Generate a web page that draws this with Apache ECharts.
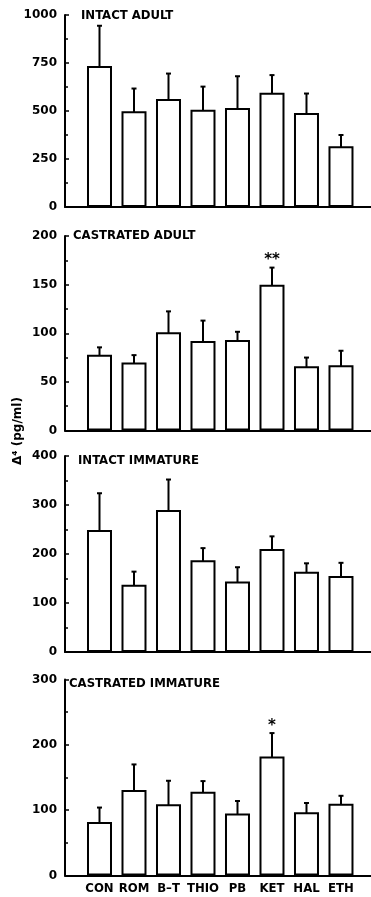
<!DOCTYPE html>
<html>
<head>
<meta charset="utf-8">
<script src="https://cdn.jsdelivr.net/npm/echarts@6/dist/echarts.min.js"></script>
<style>
	html, body { margin: 0; padding: 0; background: #fff; }
	#chart { width: 371px; height: 897px; }
</style>
</head>
<body>
<div id="chart"></div>
<script>
const categories = [ 'CON', 'ROM', 'B\u2013T', 'THIO', 'PB', 'KET', 'HAL', 'ETH' ];
const panelTitles = [ 'INTACT ADULT', 'CASTRATED ADULT', 'INTACT IMMATURE', 'CASTRATED IMMATURE' ];

const intactAdultMean = [ 734, 499, 562, 506, 515, 595, 489, 317 ];
const intactAdultSE = [ 210, 118, 133, 121, 166, 92, 102, 58 ];
const castratedAdultMean = [ 78, 70, 101, 92, 93, 150, 66, 67 ];
const castratedAdultSE = [ 7.5, 7.5, 21.5, 21, 8.5, 17.5, 9, 15 ];
const intactImmatureMean = [ 249, 137, 290, 187, 144, 210, 164, 155 ];
const intactImmatureSE = [ 75, 27, 62, 25, 29, 26, 17, 27 ];
const castratedImmatureMean = [ 82, 131, 109, 128, 95, 182, 97, 110 ];
const castratedImmatureSE = [ 22, 39, 36, 16.5, 19, 36, 14, 12 ];

const noMarks = [ '', '', '', '', '', '', '', '' ];
const castratedAdultSig = [ '', '', '', '', '', '**', '', '' ];
const castratedImmatureSig = [ '', '', '', '', '', '*', '', '' ];

const yMax = [ 1000, 200, 400, 300 ];
const yStep = [ 250, 50, 100, 100 ];

const panels = [
	{ mean: intactAdultMean, se: intactAdultSE, sig: noMarks },
	{ mean: castratedAdultMean, se: castratedAdultSE, sig: castratedAdultSig },
	{ mean: intactImmatureMean, se: intactImmatureSE, sig: noMarks },
	{ mean: castratedImmatureMean, se: castratedImmatureSE, sig: castratedImmatureSig }
];

// layout of the four stacked plots (px)
const gridTops = [ 15, 236, 456, 679.5 ];
const gridHeights = [ 192, 194.5, 196, 196 ];
const titleLeft = [ 81, 73, 78, 69 ];
const titleMid = [ 17, 237, 462, 685 ];

const FONT = '"DejaVu Sans Condensed", "Liberation Sans Narrow", "DejaVu Sans", sans-serif';
const NUM_FONT = '"DejaVu Sans", sans-serif';

const chart = echarts.init( document.getElementById( 'chart' ) );

const grids = [];
const xAxes = [];
const yAxes = [];
const series = [];
const graphics = [];

panels.forEach( ( panel, i ) => {
	grids.push( { left: 65, right: 0, top: gridTops[ i ], height: gridHeights[ i ] } );

	xAxes.push( {
		gridIndex: i,
		type: 'value',
		min: -1,
		max: 7.87,
		interval: 1,
		splitLine: { show: false },
		axisTick: { show: false },
		axisLine: { show: true, onZero: false, lineStyle: { color: '#000', width: 2 } },
		axisLabel: {
			show: i === 3,
			color: '#000',
			fontFamily: FONT,
			fontWeight: 'bold',
			fontSize: 13,
			margin: 7,
			showMinLabel: false,
			showMaxLabel: false,
			formatter: ( v ) => ( Number.isInteger( v ) && v >= 0 ? categories[ v ] || '' : '' )
		}
	} );

	yAxes.push( {
		gridIndex: i,
		type: 'value',
		min: 0,
		max: yMax[ i ],
		interval: yStep[ i ],
		splitLine: { show: false },
		axisLine: { show: true, onZero: false, lineStyle: { color: '#000', width: 2 } },
		axisTick: { show: true, inside: true, length: 4, lineStyle: { color: '#000', width: 1.5 } },
		minorTick: { show: true, splitNumber: 2, length: 3, lineStyle: { color: '#000', width: 1.5 } },
		axisLabel: {
			color: '#000',
			fontFamily: NUM_FONT,
			fontWeight: 'bold',
			fontSize: 12,
			margin: 8,
			formatter: ( v ) => String( v )
		}
	} );

	series.push( {
		type: 'bar',
		xAxisIndex: i,
		yAxisIndex: i,
		barWidth: 25,
		data: panel.mean.map( ( v, k ) => [ k, v ] ),
		itemStyle: { color: '#fff', borderColor: '#000', borderWidth: 2 },
		silent: true
	} );

	series.push( {
		type: 'custom',
		xAxisIndex: i,
		yAxisIndex: i,
		silent: true,
		data: panel.mean.map( ( v, k ) => [ k, v - panel.se[ k ], v + panel.se[ k ], panel.sig[ k ] ] ),
		renderItem: function ( params, api ) {
			const x = api.value( 0 );
			const lo = api.coord( [ x, api.value( 1 ) ] );
			const hi = api.coord( [ x, api.value( 2 ) ] );
			const style = { stroke: '#000', lineWidth: 2 };
			const children = [
				{ type: 'line', shape: { x1: lo[ 0 ], y1: lo[ 1 ], x2: hi[ 0 ], y2: hi[ 1 ] }, style: style },
				{ type: 'line', shape: { x1: hi[ 0 ] - 2.5, y1: hi[ 1 ], x2: hi[ 0 ] + 2.5, y2: hi[ 1 ] }, style: style },
				{ type: 'line', shape: { x1: lo[ 0 ] - 2.5, y1: lo[ 1 ], x2: lo[ 0 ] + 2.5, y2: lo[ 1 ] }, style: style }
			];
			const mark = api.value( 3 );
			if ( mark ) {
				children.push( {
					type: 'text',
					x: hi[ 0 ],
					y: hi[ 1 ] - 7,
					style: {
						text: mark,
						fill: '#000',
						font: 'bold 15px ' + NUM_FONT,
						align: 'center',
						verticalAlign: 'middle'
					}
				} );
			}
			return { type: 'group', children: children };
		}
	} );

	graphics.push( {
		type: 'text',
		left: titleLeft[ i ],
		top: titleMid[ i ] - 8,
		style: {
			text: panelTitles[ i ],
			fill: '#000',
			font: 'bold 13px ' + FONT
		}
	} );
} );

graphics.push( {
	type: 'text',
	x: 18,
	y: 431,
	rotation: Math.PI / 2,
	style: {
		text: '\u0394\u2074 (pg/ml)',
		fill: '#000',
		font: 'bold 12px ' + NUM_FONT,
		align: 'center',
		verticalAlign: 'middle'
	}
} );

chart.setOption( {
	animation: false,
	backgroundColor: '#fff',
	grid: grids,
	xAxis: xAxes,
	yAxis: yAxes,
	series: series,
	graphic: graphics
} );
</script>
</body>
</html>
